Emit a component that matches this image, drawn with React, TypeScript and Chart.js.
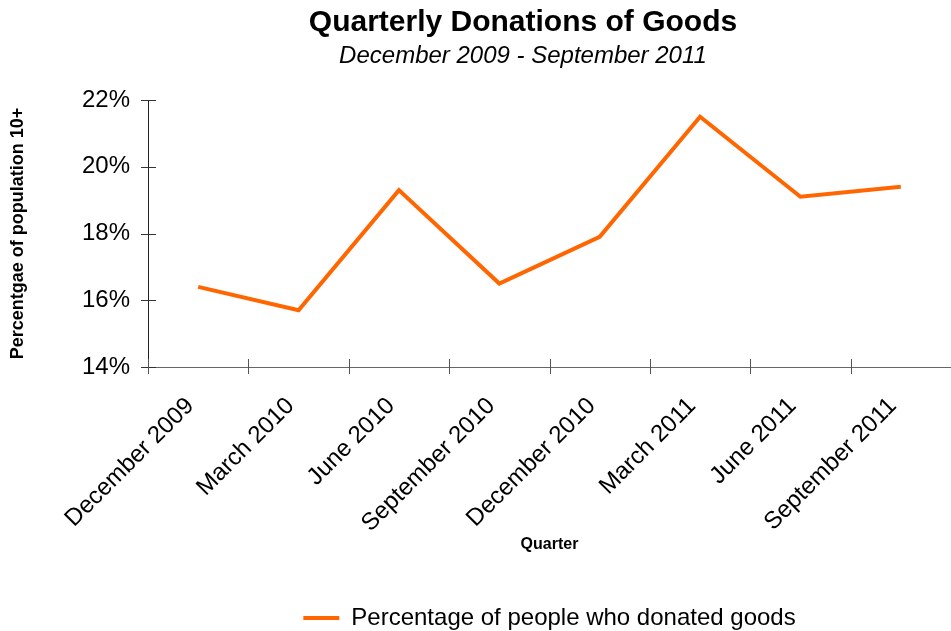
import React, { useEffect, useRef } from 'react';
import { Chart, registerables } from 'chart.js';

Chart.register(...registerables);

const chartTitle = 'Quarterly Donations of Goods';
const chartSubtitle = 'December 2009 - September 2011';
const quarters = [
  'December 2009',
  'March 2010',
  'June 2010',
  'September 2010',
  'December 2010',
  'March 2011',
  'June 2011',
  'September 2011',
];
const donatedGoods = [16.4, 15.7, 19.3, 16.5, 17.9, 21.5, 19.1, 19.4];
const yTicks = [14, 16, 18, 20, 22];

const FONT = "'Liberation Sans', Arial, Helvetica, sans-serif";
const ORANGE = '#FF6600';

const headline = {
  id: 'headline',
  afterDraw(chart: any) {
    const ctx = chart.ctx;
    ctx.save();
    ctx.fillStyle = '#000';
    ctx.textAlign = 'center';
    ctx.textBaseline = 'middle';
    ctx.font = `bold 30px ${FONT}`;
    ctx.fillText(chartTitle, 523, 23);
    ctx.font = `italic 24px ${FONT}`;
    ctx.fillText(chartSubtitle, 523, 56);
    ctx.restore();
  },
};

const crossTicks = {
  id: 'crossTicks',
  afterDraw(chart: any) {
    const ctx = chart.ctx;
    const xs = chart.scales.x;
    const ys = chart.scales.y;
    ctx.save();
    ctx.lineWidth = 1;
    ctx.strokeStyle = '#333333';
    ys.ticks.forEach((_t: any, i: number) => {
      const py = Math.round(ys.getPixelForTick(i)) + 0.5;
      ctx.beginPath();
      ctx.moveTo(xs.left - 7, py);
      ctx.lineTo(xs.left + 8, py);
      ctx.stroke();
    });
    ctx.strokeStyle = '#555555';
    for (let i = 0; i <= quarters.length; i++) {
      const px = Math.round(xs.getPixelForValue(i - 0.5)) + 0.5;
      ctx.beginPath();
      ctx.moveTo(px, ys.bottom - 8);
      ctx.lineTo(px, ys.bottom + 7);
      ctx.stroke();
    }
    ctx.restore();
  },
};

export default function App() {
  const ref = useRef<HTMLCanvasElement | null>(null);

  useEffect(() => {
    if (!ref.current) return;
    const chart = new Chart(ref.current, {
      type: 'line',
      data: {
        labels: quarters,
        datasets: [
          {
            label: 'Percentage of people who donated goods',
            data: donatedGoods,
            borderColor: ORANGE,
            backgroundColor: ORANGE,
            borderWidth: 4,
            pointRadius: 0,
            pointHoverRadius: 0,
            tension: 0,
            fill: false,
            borderJoinStyle: 'miter',
          },
        ],
      },
      options: {
        responsive: false,
        animation: false,
        layout: { padding: { left: 0, right: 0, top: 100, bottom: -9 } },
        plugins: {
          title: { display: false },
          legend: {
            display: true,
            position: 'bottom',
            fullSize: false,
            labels: {
              color: '#000',
              font: { family: FONT, size: 24 },
              boxWidth: 36,
              boxHeight: 4,
              padding: 10,
              generateLabels: (c: any) =>
                (Chart.defaults.plugins.legend.labels as any)
                  .generateLabels(c)
                  .map((l: any) => ({ ...l, lineWidth: 0, fillStyle: ORANGE, strokeStyle: ORANGE })),
            },
          },
          tooltip: { enabled: false },
        },
        scales: {
          x: {
            type: 'category',
            offset: true,
            grid: { display: false, offset: true },
            border: { display: true, color: '#666666', width: 1 },
            ticks: {
              color: '#000',
              font: { family: FONT, size: 24 },
              minRotation: 45,
              maxRotation: 45,
              autoSkip: false,
              padding: 17,
              labelOffset: -8,
            },
            title: {
              display: true,
              text: 'Quarter',
              color: '#000',
              font: { family: FONT, size: 16, weight: 'bold' },
              padding: { top: 0, bottom: 41.4 },
            },
            afterFit: (s: any) => {
              s.height = 229;
            },
          },
          y: {
            min: 14,
            max: 22,
            grid: { display: false },
            border: { display: true, color: '#222222', width: 1 },
            afterBuildTicks: (s: any) => {
              s.ticks = yTicks.map((v) => ({ value: v }));
            },
            ticks: {
              color: '#000',
              font: { family: FONT, size: 24 },
              padding: 10,
              callback: (v: any) => v + '%',
            },
            title: {
              display: true,
              text: 'Percentgae of population 10+',
              color: '#000',
              font: { family: FONT, size: 18, weight: 'bold' },
              padding: { top: 7.2, bottom: 0 },
            },
            afterFit: (s: any) => {
              s.width = 148;
            },
          },
        },
      } as any,
      plugins: [crossTicks, headline],
    });
    return () => chart.destroy();
  }, []);

  return (
    <div style={{ position: 'absolute', left: 0, top: 0, width: 951, height: 631, background: '#fff' }}>
      <canvas ref={ref} width={951} height={631} />
    </div>
  );
}
